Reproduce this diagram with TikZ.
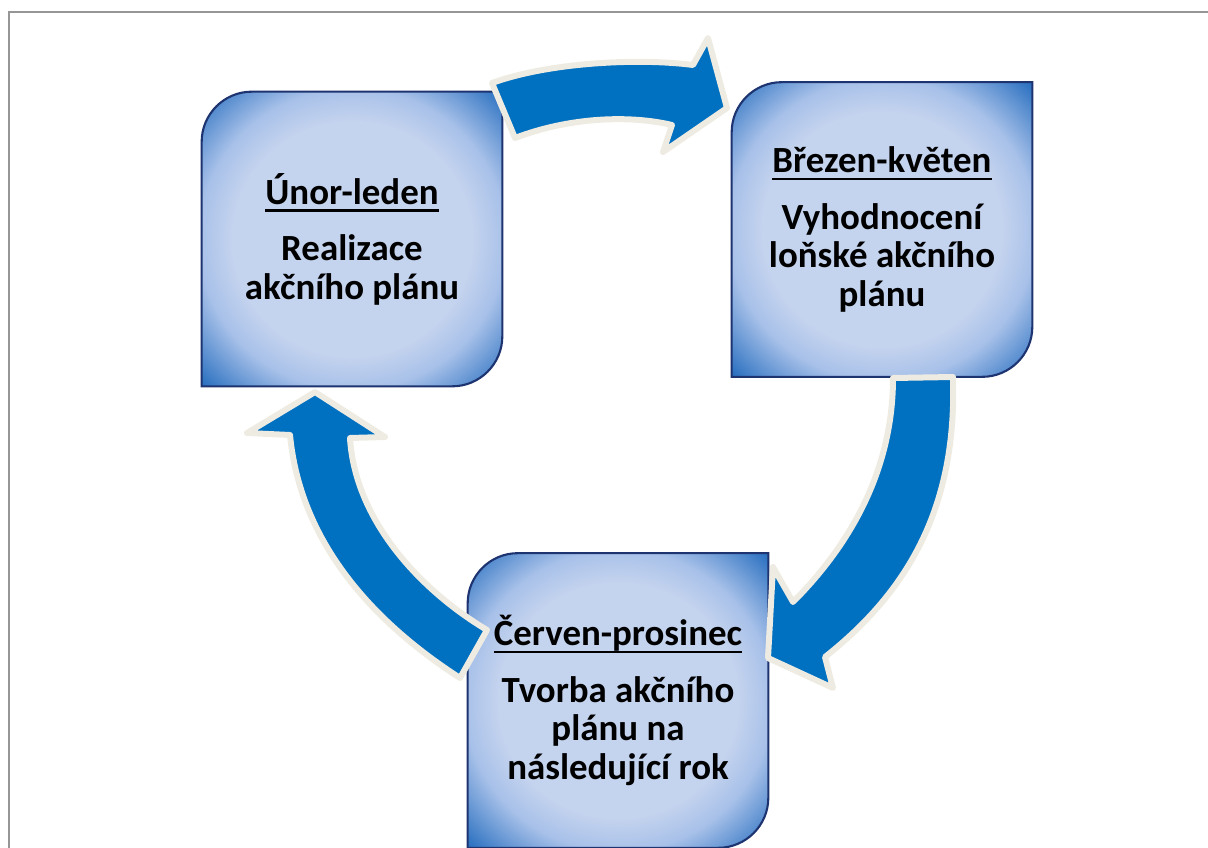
\documentclass[tikz,border=0pt]{standalone}
\usepackage{fontspec}
\setmainfont{Carlito}

\definecolor{boxlight}{RGB}{196,211,238}
\definecolor{boxmid}{RGB}{168,193,233}
\definecolor{boxdark}{RGB}{42,112,192}
\definecolor{boxrim}{RGB}{30,52,112}
\definecolor{arrowblue}{RGB}{0,112,192}
\definecolor{arrowrim}{RGB}{238,236,226}
\definecolor{framegray}{RGB}{150,150,150}

\pgfdeclareradialshading{boxglow}{\pgfpoint{0bp}{0bp}}{color(0bp)=(boxlight); color(20bp)=(boxlight); color(25.5bp)=(boxmid); color(35bp)=(boxdark); color(50bp)=(boxdark)}

% underline that ignores descenders
\newcommand{\monthline}[1]{\setbox0\hbox{#1}\rlap{\vrule width\wd0 height -2.8pt depth 4.2pt}\box0}

% box with two rounded corners behind an (empty) node
\newcommand{\cyclebox}[1]{%
\path[planbox] (#1.south west) -- ([yshift=-1cm]#1.north west)
  .. controls ([yshift=-0.45cm]#1.north west) and ([xshift=0.45cm]#1.north west) .. ([xshift=1cm]#1.north west)
  -- (#1.north east) -- ([yshift=1cm]#1.south east)
  .. controls ([yshift=0.45cm]#1.south east) and ([xshift=-0.45cm]#1.south east) .. ([xshift=-1cm]#1.south east)
  -- cycle;}

\begin{document}
\begin{tikzpicture}[x=0.02cm,y=-0.02cm,
  planslot/.style={shape=rectangle,minimum width=6cm,minimum height=5.88cm,inner sep=0pt},
  planbox/.style={shade,shading=boxglow,draw=boxrim,line width=1.2pt},
  plantext/.style={font=\bfseries\fontsize{21}{22}\selectfont,align=center,inner sep=0pt},
  cyclearrow/.style={fill=arrowblue,draw=arrowrim,line width=0.12cm,line join=round}]
\useasboundingbox (0,0) rectangle (1208,848);
\draw[framegray,line width=0.04cm] (9,870) -- (9,12) -- (1230,12);

\node[planslot] (jan) at (352,239) {};
\node[planslot] (mar) at (882,229.5) {};
\node[planslot] (jun) at (618,700.5) {};
\cyclebox{jan}
\cyclebox{mar}
\cyclebox{jun}

% arrows between the boxes
\path[cyclearrow] (492,83) .. controls (550,62) and (640,58) .. (693,65) -- (708,38) -- (727,108) -- (663,152) -- (672,125)
  .. controls (630,115) and (570,117) .. (515,138) -- cycle;
\path[cyclearrow] (893,378) -- (953,377) .. controls (957,505) and (910,590) .. (825,657) -- (833,688) -- (768,658) -- (773,567) -- (793,602)
  .. controls (850,545) and (893,470) .. (893,378) -- cycle;
\path[cyclearrow] (487,630) -- (460,678) .. controls (370,620) and (300,540) .. (290,435) -- (247,433) -- (315,392) -- (385,437) -- (350,438)
  .. controls (355,520) and (420,590) .. (487,630) -- cycle;

\node[plantext] (jantext) at (jan.center) {\monthline{Únor-leden}\\[10pt] Realizace\\ akčního plánu};
\node[plantext] (martext) at (mar.center) {\monthline{Březen-květen}\\[10pt] Vyhodnocení\\ loňské akčního\\ plánu};
\node[plantext] (juntext) at (jun.center) {\monthline{Červen-prosinec}\\[10pt] Tvorba akčního\\ plánu na\\ následující rok};
\end{tikzpicture}
\end{document}
